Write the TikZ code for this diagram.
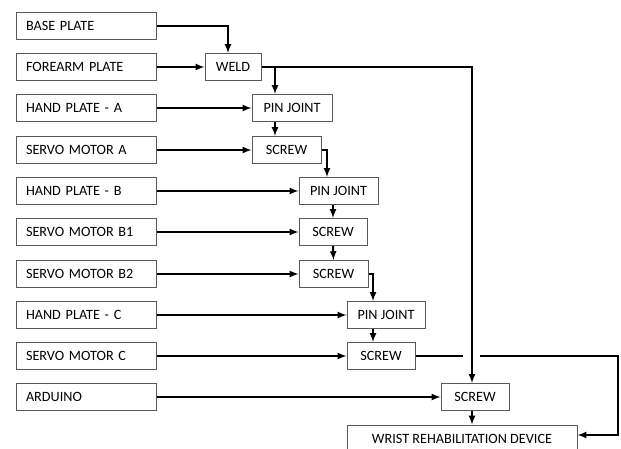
\documentclass[tikz,border=0pt]{standalone}
\usepackage{fontspec}
\setmainfont{Carlito}

\begin{document}
\begin{tikzpicture}[x=1pt,y=-1pt,
    part/.style={draw=black!65,line width=1pt,text width=120pt,align=left,
      inner xsep=10pt,inner ysep=0pt,minimum height=27pt,
      font=\fontsize{14.2}{16}\selectfont},
    stage/.style={draw=black!65,line width=1pt,inner sep=0pt,minimum height=27pt,
      font=\fontsize{14.2}{16}\selectfont},
    link/.style={line width=2pt},
    flow/.style={link,-latex}]
  \useasboundingbox (0,0) rectangle (621,449);
  \clip (0,0) rectangle (621,449);
  % parts, one row each
  \foreach \name/\label/\y in {base/BASE PLATE/26,forearm/FOREARM PLATE/67,
      handA/HAND PLATE - A/108,servoA/SERVO MOTOR A/150,handB/HAND PLATE - B/191,
      servoBa/SERVO MOTOR B1/232,servoBb/SERVO MOTOR B2/274,handC/HAND PLATE - C/315,
      servoC/SERVO MOTOR C/356,arduino/ARDUINO/397}{%
    \node[part] (\name) at (86,\y) {\label};
  }
  % joining steps, on the rows of their parts
  \node[stage,minimum width=56pt] (weld) at (233,0 |- forearm) {WELD};
  \node[stage,minimum width=80pt] (pinA) at (292,0 |- handA) {PIN JOINT};
  \node[stage,minimum width=69pt] (screwA) at (286.5,0 |- servoA) {SCREW};
  \node[stage,minimum width=79pt] (pinB) at (338.5,0 |- handB) {PIN JOINT};
  \node[stage,minimum width=68pt] (screwBa) at (333,0 |- servoBa) {SCREW};
  \node[stage,minimum width=69pt] (screwBb) at (333.5,0 |- servoBb) {SCREW};
  \node[stage,minimum width=78pt] (pinC) at (386,0 |- handC) {PIN JOINT};
  \node[stage,minimum width=68pt] (screwC) at (381,0 |- servoC) {SCREW};
  \node[stage,minimum width=68pt] (screwD) at (475,0 |- arduino) {SCREW};
  \node[stage,minimum width=230pt,minimum height=28pt] (wrist) at (462,439)
    {WRIST REHABILITATION DEVICE};
  \coordinate (jump) at ([xshift=-3pt]screwD.north |- screwC.east);
  \coordinate (rim) at (618,0 |- screwC);
  % inputs from the left
  \draw[flow] (base.east) -| ([xshift=-5pt]weld.north);
  \draw[flow] (forearm.east) -- (weld.west);
  \foreach \src/\dst in {handA/pinA,servoA/screwA,handB/pinB,servoBa/screwBa,
      servoBb/screwBb,handC/pinC,servoC/screwC,arduino/screwD}{%
    \draw[flow] (\src.east) -- (\dst.west);
  }
  % chain
  \draw[flow] (weld.east) -| ([xshift=-17pt]pinA.north);
  \draw[flow] (weld.east) -| ([xshift=-3pt]screwD.north);
  \draw[flow] ([xshift=-17pt]pinA.south) -- ([xshift=-17pt]pinA.south |- screwA.north);
  \draw[flow] (screwA.east) -| ([xshift=-11.5pt]pinB.north);
  \draw[flow] (pinB.south -| screwBa.north) -- (screwBa.north);
  \draw[flow] (screwBa.south) -- (screwBb.north);
  \draw[flow] (screwBb.east) -| ([xshift=-13pt]pinC.north);
  \draw[flow] ([xshift=-13pt]pinC.south) -- ([xshift=-13pt]pinC.south |- screwC.north);
  \draw[link] (screwC.east) -- ([xshift=-9pt]jump);
  \draw[flow] ([xshift=8pt]jump) -- (rim) |- ([yshift=4pt]wrist.east);
  \draw[flow] ([xshift=-3pt]screwD.south) -- ([xshift=-3pt]screwD.south |- wrist.north);
\end{tikzpicture}
\end{document}
